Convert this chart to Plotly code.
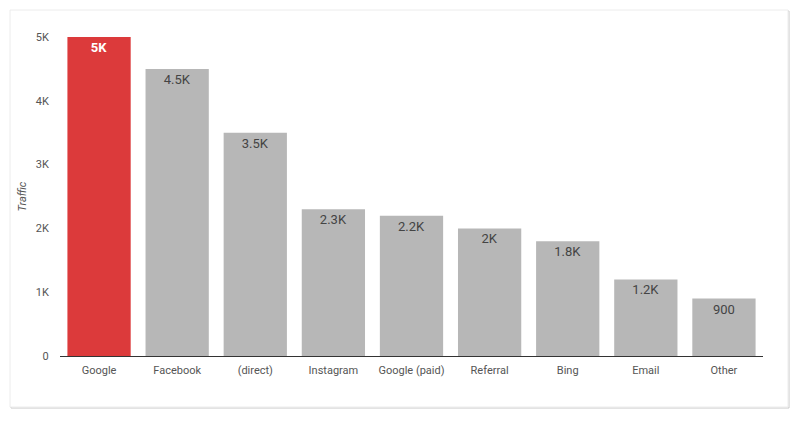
import plotly.graph_objects as go

categories = ["Google", "Facebook", "(direct)", "Instagram", "Google (paid)", "Referral", "Bing", "Email", "Other"]
traffic = [5000, 4500, 3500, 2300, 2200, 2000, 1800, 1200, 900]
labels = ["5K", "4.5K", "3.5K", "2.3K", "2.2K", "2K", "1.8K", "1.2K", "900"]
tick_vals = [0, 1000, 2000, 3000, 4000, 5000]
tick_text = ["0", "1K", "2K", "3K", "4K", "5K"]

colors = ["#dc3a3b"] + ["#b7b7b7"] * (len(categories) - 1)
text_colors = ["#ffffff"] + ["#444444"] * (len(categories) - 1)
text_labels = ["<b>" + labels[0] + "</b>"] + labels[1:]

fig = go.Figure(go.Bar(
    x=categories, y=traffic, marker=dict(color=colors, line=dict(width=0)),
    text=text_labels, textposition="inside", insidetextanchor="end",
    textangle=0, constraintext="none",
    insidetextfont=dict(family="Roboto", size=13, color=text_colors),
    hoverinfo="skip",
))

L, R, T, B = 60, 38, 37, 65
W, H = 801, 421
pw, ph = W - L - R, H - T - B

def px(x):
    return (x - L) / pw

def py(y):
    return (H - B - y) / ph

fig.add_shape(type="rect", xref="paper", yref="paper",
              x0=px(11), x1=px(789), y0=py(408), y1=py(11),
              line=dict(color="#c8c8c8", width=1), fillcolor="rgba(0,0,0,0)", layer="below")
fig.add_shape(type="rect", xref="paper", yref="paper",
              x0=px(10), x1=px(788), y0=py(407), y1=py(10),
              line=dict(color="#ececec", width=1), fillcolor="#ffffff", layer="below")

fig.update_layout(
    width=W, height=H, margin=dict(l=L, r=R, t=T, b=B),
    paper_bgcolor="#ffffff", plot_bgcolor="rgba(0,0,0,0)",
    bargap=0.19, showlegend=False,
    font=dict(family="Roboto", size=11, color="#555555"),
    xaxis=dict(showgrid=False, showline=True, linecolor="#333333", linewidth=1,
               ticks="outside", ticklen=4, tickcolor="rgba(0,0,0,0)",
               tickfont=dict(size=11, color="#555555"), fixedrange=True),
    yaxis=dict(range=[0, 5000], showgrid=False, zeroline=False, showline=False,
               tickvals=tick_vals, ticktext=tick_text,
               ticks="outside", ticklen=8, tickcolor="rgba(0,0,0,0)",
               tickfont=dict(size=11, color="#555555"),
               title=dict(text="<i>Traffic</i>", font=dict(size=11, color="#555555"), standoff=6)),
)

fig.write_html("out.html")
